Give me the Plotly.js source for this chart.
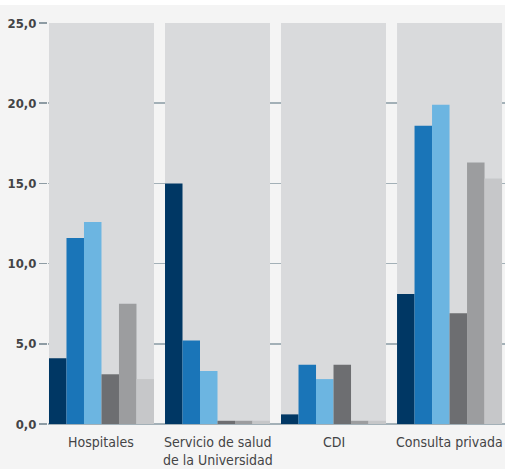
<!DOCTYPE html>
<html>
<head>
<meta charset="utf-8">
<script src="https://cdn.plot.ly/plotly-3.0.1.min.js"></script>
<style>
  html, body { margin: 0; padding: 0; background: #ffffff; }
  #chart { position: absolute; top: 5px; left: 0; width: 505px; height: 464px; }
</style>
</head>
<body>
<div id="chart"></div>
<script>
// Categories (line breaks shown as separate label lines)
const categories = ["Hospitales", "Servicio de salud\nde la Universidad", "CDI", "Consulta privada"];
const catKeys = ["Hospitales", "Servicio de salud", "CDI", "Consulta privada"];

// Series values (six bars per category)
const serie1 = [4.1, 15.0, 0.6, 8.1];
const serie2 = [11.6, 5.2, 3.7, 18.6];
const serie3 = [12.6, 3.3, 2.8, 19.9];
const serie4 = [3.1, 0.2, 3.7, 6.9];
const serie5 = [7.5, 0.2, 0.2, 16.3];
const serie6 = [2.8, 0.2, 0.2, 15.3];

// Y ticks
const yTickVals = [0, 5, 10, 15, 20, 25];
const yTickText = ["0,0", "5,0", "10,0", "15,0", "20,0", "25,0"];
const panelTop = 25;

const seriesList = [serie1, serie2, serie3, serie4, serie5, serie6];
const colors = ["#003764", "#1a75b8", "#6cb5e1", "#6d6e71", "#9c9d9f", "#c6c7c9"];

const FONT = "'DejaVu Sans Condensed', 'Liberation Sans Narrow', sans-serif";

const traces = seriesList.map((vals, i) => ({
  type: "bar",
  x: catKeys,
  y: vals,
  name: "Serie " + (i + 1),
  marker: { color: colors[i], line: { width: 0 } },
  showlegend: false,
  hoverinfo: "y"
}));

const bargap = 0.095;
const half = (1 - bargap) / 2;

const shapes = catKeys.map((c, i) => ({
  type: "rect",
  xref: "x", yref: "y",
  x0: i - half, x1: i + half,
  y0: 0, y1: panelTop,
  fillcolor: "#d9dadc",
  line: { width: 0 },
  layer: "between"
}));

const annotations = [];
categories.forEach((label, i) => {
  label.split("\n").forEach((line, j) => {
    annotations.push({
      xref: "x", yref: "paper",
      x: i, y: 0,
      yanchor: "top", xanchor: "center",
      yshift: -9 - j * 18,
      text: line,
      showarrow: false,
      borderpad: 0,
      font: { family: FONT, size: 14, color: "#444446" }
    });
  });
});

const layout = {
  width: 505,
  height: 464,
  margin: { l: 48, r: 0, t: 18, b: 45 },
  paper_bgcolor: "#f4f4f4",
  plot_bgcolor: "#f4f4f4",
  barmode: "group",
  bargap: bargap,
  bargroupgap: 0,
  xaxis: {
    type: "category",
    range: [-0.461, 3.478],
    showticklabels: false,
    ticks: "",
    showgrid: false,
    zeroline: false,
    showline: false,
    fixedrange: true
  },
  yaxis: {
    range: [0, 25],
    tickvals: yTickVals,
    ticktext: yTickText,
    ticks: "outside",
    ticklen: 8,
    tickwidth: 1.5,
    tickcolor: "#8e9ca4",
    showgrid: true,
    gridcolor: "#a3b0b7",
    gridwidth: 1.5,
    zeroline: true,
    zerolinecolor: "#a3b0b7",
    zerolinewidth: 1.5,
    showline: false,
    tickfont: { family: FONT, size: 13, color: "#444446", weight: "bold" },
    fixedrange: true
  },
  shapes: shapes,
  annotations: annotations,
  font: { family: FONT }
};

Plotly.newPlot("chart", traces, layout, { displayModeBar: false, staticPlot: true });
</script>
</body>
</html>
